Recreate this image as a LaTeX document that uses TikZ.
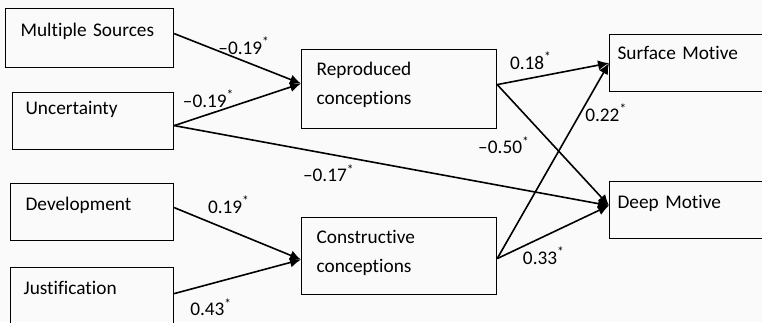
\documentclass[tikz,border=0pt]{standalone}
\usepackage{fontspec}
\setmainfont{Carlito}[Ligatures=NoCommon]
\usetikzlibrary{arrows.meta}

\begin{document}
\begin{tikzpicture}[x=1pt,y=-1pt,
  box/.style={draw,line width=1.2pt,anchor=north west,inner xsep=0pt,inner ysep=0pt,align=left,font=\fontsize{19.3}{29}\selectfont},
  link/.style={line width=1.6pt,-{Latex[length=11pt,width=10pt]}},
  coef/.style={font=\fontsize{19.3}{22}\selectfont,inner sep=2pt}]
\useasboundingbox[fill=white!98!black] (0,0) rectangle (762,322);
% left column
\node[box,text width=168pt,text height=28pt,text depth=31pt] (ms) at (5,8) {\hspace*{15pt}Multiple Sources};
\node[box,text width=161pt,text height=22pt,text depth=35pt] (unc) at (12,92) {\hspace*{13pt}Uncertainty};
\node[box,text width=163pt,text height=27pt,text depth=30pt] (dev) at (10,183) {\hspace*{15pt}Development};
\node[box,text width=163pt,text height=27pt,text depth=30pt] (jus) at (10,267) {\hspace*{13pt}Justification};
% middle column
\node[box,text width=195pt,text height=26pt,text depth=53pt] (rep) at (301,49) {\hspace*{15pt}Reproduced\\\hspace*{15pt}conceptions};
\node[box,text width=195pt,text height=26pt,text depth=51pt] (con) at (301,217) {\hspace*{15pt}Constructive\\\hspace*{15pt}conceptions};
% right column
\node[box,text width=160pt,text height=25pt,text depth=32pt] (sur) at (609,34) {\hspace*{8pt}Surface Motive};
\node[box,text width=160pt,text height=27pt,text depth=30pt] (deep) at (609,181) {\hspace*{8pt}Deep Motive};
% paths
\draw[link] ([yshift=4.5pt]ms.east) -- node[coef,pos=0.55,above=4pt] {–0.19\textsuperscript{*}} ([yshift=5.5pt]rep.west);
\draw[link] ([yshift=-4.5pt]unc.east) -- node[coef,pos=0.27,above=4pt] {–0.19\textsuperscript{*}} ([yshift=5.5pt]rep.west);
\draw[link] ([yshift=-4.5pt]unc.east) -- node[coef,pos=0.355,below=8pt] {–0.17\textsuperscript{*}} ([yshift=4.5pt]deep.west);
\draw[link] ([yshift=4.5pt]dev.east) -- node[coef,pos=0.43,above=14pt] {0.19\textsuperscript{*}} ([yshift=-3.5pt]con.west);
\draw[link] ([yshift=2.5pt]jus.east) -- node[coef,pos=0.29,below=12pt] {0.43\textsuperscript{*}} ([yshift=-3.5pt]con.west);
\draw[link] ([yshift=4.5pt]rep.east) -- node[coef,pos=0.3,above=6pt] {0.18\textsuperscript{*}} (sur.west);
\draw[link] ([yshift=4.5pt]rep.east) -- node[coef,pos=0.5,left=21pt] {–0.50\textsuperscript{*}} ([yshift=4.5pt]deep.west);
\draw[link] ([yshift=-2.5pt]con.east) -- node[coef,pos=0.745,right=2pt] {0.22\textsuperscript{*}} (sur.west);
\draw[link] ([yshift=-2.5pt]con.east) -- node[coef,pos=0.416,below=8pt] {0.33\textsuperscript{*}} ([yshift=4.5pt]deep.west);
\end{tikzpicture}
\end{document}
